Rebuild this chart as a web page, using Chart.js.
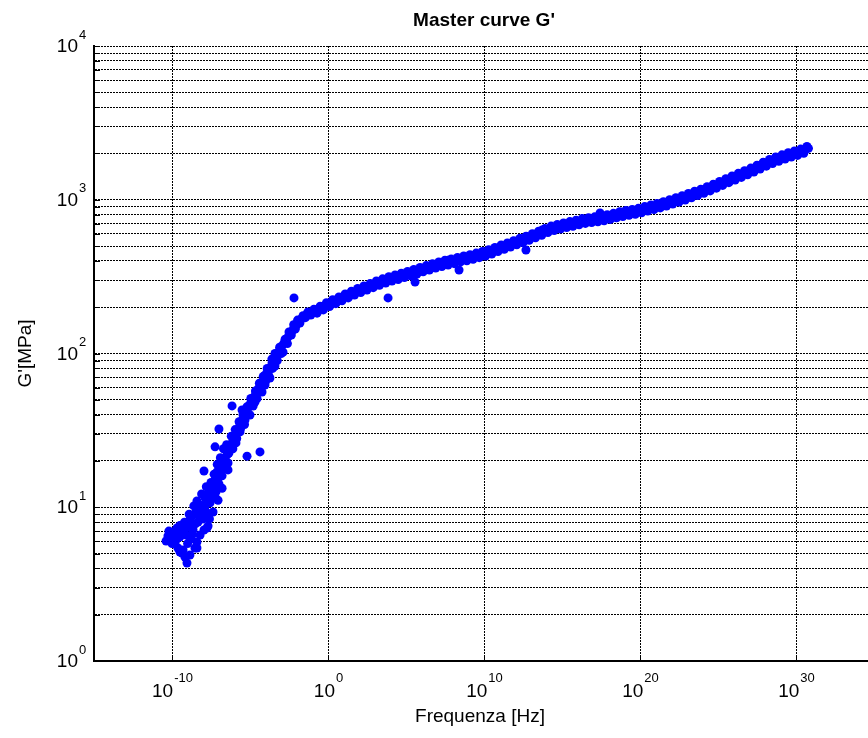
<!DOCTYPE html>
<html>
<head>
<meta charset="utf-8">
<script src="https://cdn.jsdelivr.net/npm/chart.js@4.4.1/dist/chart.umd.min.js"></script>
<style>
  html, body { margin: 0; padding: 0; background: #fff; overflow: hidden; }
  #wrap { width: 868px; height: 738px; overflow: hidden; }
</style>
</head>
<body>
<div id="wrap"><canvas id="chart" width="880" height="738"></canvas></div>
<script>
// Master curve G'

// x values are given as log10 of the frequency in Hz, y values in MPa
const lowFreqExp = [
  -10.38, -10.26, -10.06, -9.94, -9.81, -9.68, -9.62, -9.49, -9.36, -9.29,
  -9.17, -9.10, -9.04, -8.97, -8.85, -8.85, -8.72, -8.65, -8.53, -8.46,
  -8.40, -8.40, -8.33, -8.21, -8.14, -8.01, -7.95, -7.88, -7.76, -7.76,
  -7.69, -7.63, -7.56, -7.44, -7.37, -7.31, -7.24, -7.24, -7.18, -7.12,
  -7.05, -6.99, -6.92, -6.79, -6.79, -6.73, -6.60, -6.47, -6.41, -6.41,
  -6.28, -6.15, -6.03, -5.90, -5.90, -5.77, -5.64, -5.64, -5.51, -5.38,
  -5.32, -5.26, -5.13, -5.00, -5.00, -4.87, -4.74, -4.68, -4.62, -4.49,
  -4.36, -4.23, -4.23, -4.10, -4.04, -3.97, -3.85, -3.72, -3.72, -3.59,
  -3.46, -3.40, -3.33, -3.21, -3.08, -2.95, -2.88, -2.82, -2.69, -2.56,
  -2.44, -2.31, -2.18, -2.05, -1.92, -1.79, -1.67, -1.54, -1.41, -1.28
];
const lowG = [
  6.03, 6.50, 6.31, 6.90, 5.77, 7.33, 5.43, 5.12, 5.04, 5.27,
  4.75, 6.60, 4.34, 7.55, 8.26, 4.89, 6.60, 7.11, 5.43, 9.31,
  5.94, 5.43, 8.02, 8.51, 10.3, 9.60, 7.11, 11.5, 9.18, 7.33,
  7.55, 12.6, 10.7, 13.3, 9.31, 11.7, 15.0, 11.7, 12.6, 17.0,
  11.1, 14.2, 18.5, 16.0, 13.3, 19.7, 20.9, 21.9, 19.4, 17.5,
  24.3, 26.2, 27.4, 29.9, 26.2, 31.8, 34.8, 30.9, 36.9, 39.2,
  36.9, 42.3, 44.2, 46.9, 39.8, 49.9, 52.1, 48.4, 55.3, 58.7,
  61.5, 65.3, 56.2, 69.3, 62.4, 73.6, 76.9, 80.5, 69.3, 86.7,
  90.7, 82.9, 94.9, 101, 107, 112, 102, 117, 122, 128,
  134, 140, 147, 151, 158, 165, 169, 173, 177, 181
];

// second layer of the steep part, it is a wide cloud in the plot
const lowSpreadFreqExp = [
  -10.2, -10.0, -9.9, -9.8, -9.7, -9.5, -9.5, -9.3, -9.2, -9.0,
  -9.0, -8.9, -8.8, -8.7, -8.6, -8.5, -8.4, -8.3, -8.2, -8.1,
  -8.0, -7.9, -7.8, -7.7, -7.6, -7.5, -7.4, -7.3, -7.2, -7.1,
  -7.0, -6.9, -6.85, -6.7, -6.6, -6.5, -6.35, -6.2, -6.1, -5.95,
  -5.85, -5.7, -5.6, -5.45, -5.35, -5.2, -5.1, -4.95, -4.8, -4.65,
  -4.55, -4.4, -4.3, -4.15, -4.0, -3.9, -3.8, -3.6, -3.55, -3.4,
  -3.25, -3.1, -3.0, -2.75, -2.6, -2.5, -2.35, -2.2, -2.1, -1.95,
  -1.8, -1.6, -1.45, -1.3, -1.1
];
const lowSpreadG = [
  7.0, 5.8, 6.0, 6.8, 6.2, 7.6, 6.4, 7.0, 8.0, 7.4,
  5.8, 9.0, 6.2, 8.8, 10.2, 7.8, 11.0, 9.0, 6.6, 12.2,
  8.4, 10.0, 13.6, 11.0, 8.4, 14.5, 12.0, 16.4, 13.6, 19.0,
  15.6, 21.0, 17.0, 24.0, 18.6, 25.5, 22.5, 29.0, 24.0, 32.0,
  28.0, 36.0, 32.5, 40.0, 34.5, 45.0, 40.5, 51.0, 45.5, 57.0,
  51.0, 64.0, 58.0, 71.0, 66.0, 80.0, 72.0, 92.0, 80.0, 100,
  90, 110, 100, 124, 116, 138, 132, 154, 144, 165,
  158, 176, 171, 186, 178
];

const bandFreqExp = [
  -1.0, -0.8, -0.6, -0.4, -0.2, 0.0, 0.2, 0.4, 0.6, 0.8,
  1.0, 1.2, 1.4, 1.6, 1.8, 2.0, 2.2, 2.4, 2.6, 2.8,
  3.0, 3.2, 3.4, 3.6, 3.8, 4.0, 4.2, 4.4, 4.6, 4.8,
  5.0, 5.2, 5.4, 5.6, 5.8, 6.0, 6.2, 6.4, 6.6, 6.8,
  7.0, 7.2, 7.4, 7.6, 7.8, 8.0, 8.2, 8.4, 8.6, 8.8,
  9.0, 9.2, 9.4, 9.6, 9.8, 10.0, 10.2, 10.4, 10.6, 10.8,
  11.0, 11.2, 11.4, 11.6, 11.8, 12.0, 12.2, 12.4, 12.6, 12.8,
  13.0, 13.2, 13.4, 13.6, 13.8, 14.0, 14.2, 14.4, 14.6, 14.8,
  15.0, 15.2, 15.4, 15.6, 15.8, 16.0, 16.2, 16.4, 16.6, 16.8,
  17.0, 17.2, 17.4, 17.6, 17.8, 18.0, 18.2, 18.4, 18.6, 18.8,
  19.0, 19.2, 19.4, 19.6, 19.8, 20.0, 20.2, 20.4, 20.6, 20.8,
  21.0, 21.2, 21.4, 21.6, 21.8, 22.0, 22.2, 22.4, 22.6, 22.8,
  23.0, 23.2, 23.4, 23.6, 23.8, 24.0, 24.2, 24.4, 24.6, 24.8,
  25.0, 25.2, 25.4, 25.6, 25.8, 26.0, 26.2, 26.4, 26.6, 26.8,
  27.0, 27.2, 27.4, 27.6, 27.8, 28.0, 28.2, 28.4, 28.6, 28.8,
  29.0, 29.2, 29.4, 29.6, 29.8, 30.0, 30.2, 30.4, 30.6, 30.8
];
const bandG = [
  185, 189, 193, 197, 203, 208, 213, 217, 222, 227,
  232, 237, 242, 247, 252, 257, 262, 267, 272, 277,
  282, 287, 292, 296, 301, 306, 310, 314, 318, 323,
  327, 330, 336, 340, 346, 352, 356, 362, 366, 372,
  378, 380, 386, 390, 394, 397, 402, 408, 412, 416,
  420, 424, 430, 436, 440, 446, 452, 458, 466, 474,
  484, 492, 500, 508, 516, 526, 534, 544, 552, 562,
  574, 584, 596, 606, 618, 630, 644, 652, 660, 668,
  676, 682, 690, 696, 704, 712, 722, 728, 734, 738,
  742, 746, 750, 756, 764, 772, 780, 790, 800, 806,
  814, 822, 828, 834, 840, 850, 862, 874, 884, 894,
  906, 916, 928, 942, 956, 968, 984, 998, 1012, 1028,
  1046, 1066, 1082, 1100, 1118, 1136, 1158, 1178, 1200, 1226,
  1252, 1278, 1304, 1332, 1360, 1388, 1414, 1442, 1470, 1498,
  1528, 1562, 1596, 1630, 1666, 1704, 1742, 1778, 1810, 1840,
  1870, 1900, 1930, 1960, 1988, 2010, 2036, 2070, 2110, 2160
];

// points between the band points, alternately on the upper and lower edge
const edgeFreqExp = [
  -0.9, -0.7, -0.5, -0.3, -0.1, 0.1, 0.3, 0.5, 0.7, 0.9,
  1.1, 1.3, 1.5, 1.7, 1.9, 2.1, 2.3, 2.5, 2.7, 2.9,
  3.1, 3.3, 3.5, 3.7, 3.9, 4.1, 4.3, 4.5, 4.7, 4.9,
  5.1, 5.3, 5.5, 5.7, 5.9, 6.1, 6.3, 6.5, 6.7, 6.9,
  7.1, 7.3, 7.5, 7.7, 7.9, 8.1, 8.3, 8.5, 8.7, 8.9,
  9.1, 9.3, 9.5, 9.7, 9.9, 10.1, 10.3, 10.5, 10.7, 10.9,
  11.1, 11.3, 11.5, 11.7, 11.9, 12.1, 12.3, 12.5, 12.7, 12.9,
  13.1, 13.3, 13.5, 13.7, 13.9, 14.1, 14.3, 14.5, 14.7, 14.9,
  15.1, 15.3, 15.5, 15.7, 15.9, 16.1, 16.3, 16.5, 16.7, 16.9,
  17.1, 17.3, 17.5, 17.7, 17.9, 18.1, 18.3, 18.5, 18.7, 18.9,
  19.1, 19.3, 19.5, 19.7, 19.9, 20.1, 20.3, 20.5, 20.7, 20.9,
  21.1, 21.3, 21.5, 21.7, 21.9, 22.1, 22.3, 22.5, 22.7, 22.9,
  23.1, 23.3, 23.5, 23.7, 23.9, 24.1, 24.3, 24.5, 24.7, 24.9,
  25.1, 25.3, 25.5, 25.7, 25.9, 26.1, 26.3, 26.5, 26.7, 26.9,
  27.1, 27.3, 27.5, 27.7, 27.9, 28.1, 28.3, 28.5, 28.7, 28.9,
  29.1, 29.3, 29.5, 29.7, 29.9, 30.1, 30.3, 30.5, 30.7
];
const edgeG = [
  194, 183, 203, 192, 214, 202, 224, 211, 233, 220,
  244, 230, 254, 240, 265, 249, 275, 259, 285, 268,
  296, 278, 306, 287, 316, 296, 324, 303, 333, 312,
  342, 320, 352, 329, 363, 340, 373, 349, 384, 360,
  394, 368, 404, 376, 411, 384, 421, 394, 431, 401,
  439, 410, 450, 420, 461, 431, 473, 444, 489, 460,
  508, 476, 524, 492, 542, 509, 561, 526, 579, 545,
  602, 566, 625, 588, 649, 612, 674, 630, 691, 645,
  706, 659, 721, 672, 736, 688, 754, 702, 765, 710,
  774, 718, 783, 730, 799, 745, 816, 763, 835, 778,
  851, 792, 864, 804, 879, 822, 903, 844, 925, 864,
  947, 885, 972, 911, 1000, 937, 1031, 965, 1061, 996,
  1098, 1031, 1135, 1065, 1172, 1101, 1215, 1141, 1262, 1189,
  1316, 1239, 1371, 1292, 1429, 1345, 1485, 1398, 1543, 1452,
  1607, 1516, 1678, 1582, 1752, 1654, 1830, 1722, 1898, 1781,
  1960, 1838, 2023, 1895, 2079, 1942, 2135, 2006, 2220
];

// small bumps just off the band
const bumpFreqExp = [5.58, 7.76, 8.40, 12.69, 13.72, 17.44];
const bumpG = [292, 406, 349, 471, 635, 820];

const outlierFreqExp = [-7.95, -7.24, -6.99, -6.15, -5.51, -5.19, -4.36, -2.18, 3.85];
const outlierG = [17.2, 24.7, 32.3, 45.6, 42.9, 21.5, 22.9, 230, 230];

const xTickExp = [-10, 0, 10, 20, 30];
const yTickExp = [0, 1, 2, 3, 4];
const yMinorSteps = [1, 2, 3, 4, 5, 6, 7, 8, 9];

const FONT = '"Liberation Sans", Arial, Helvetica, sans-serif';

const toPoints = (ex, g) => ex.map((e, i) => ({ x: Math.pow(10, e), y: g[i] }));

const allPoints = [].concat(
  toPoints(lowFreqExp, lowG),
  toPoints(lowSpreadFreqExp, lowSpreadG),
  toPoints(bandFreqExp, bandG),
  toPoints(edgeFreqExp, edgeG),
  toPoints(bumpFreqExp, bumpG),
  toPoints(outlierFreqExp, outlierG)
);

// y grid at 1..9 x 10^k
const yGridValues = [];
yTickExp.slice(0, -1).forEach(k => yMinorSteps.forEach(m => yGridValues.push(m * Math.pow(10, k))));
yGridValues.push(Math.pow(10, yTickExp[yTickExp.length - 1]));

// superscript labels, inward ticks, titles
const decorations = {
  id: 'decorations',
  afterDraw(chart) {
    const c = chart.ctx;
    const xs = chart.scales.x, ys = chart.scales.y;
    const area = chart.chartArea;
    c.save();
    c.fillStyle = '#000';
    c.strokeStyle = '#000';
    c.lineWidth = 1;

    // inward tick marks
    c.beginPath();
    yGridValues.forEach(v => {
      const py = Math.round(ys.getPixelForValue(v)) + 0.5;
      c.moveTo(area.left, py);
      c.lineTo(area.left + 6, py);
    });
    xTickExp.forEach(e => {
      const px = Math.round(xs.getPixelForValue(Math.pow(10, e))) + 0.5;
      c.moveTo(px, area.bottom);
      c.lineTo(px, area.bottom - 6);
    });
    c.stroke();

    c.textBaseline = 'middle';
    c.textAlign = 'left';
    // y labels
    yTickExp.forEach(e => {
      const py = ys.getPixelForValue(Math.pow(10, e));
      c.font = '19px ' + FONT;
      const wb = c.measureText('10').width;
      c.fillText('10', 78 - wb, py + 1);
      c.font = '13px ' + FONT;
      c.fillText(String(e), 79, py - 11);
    });
    // x labels
    xTickExp.forEach(e => {
      const px = xs.getPixelForValue(Math.pow(10, e));
      c.font = '19px ' + FONT;
      const wb = c.measureText('10').width;
      c.font = '13px ' + FONT;
      const we = c.measureText(String(e)).width;
      const left = px - (wb + we) / 2;
      c.font = '19px ' + FONT;
      c.fillText('10', left, 692);
      c.font = '13px ' + FONT;
      c.fillText(String(e), left + wb + 1, 678);
    });

    // titles
    const cx = (area.left + area.right) / 2;
    c.textAlign = 'center';
    c.font = 'bold 19px ' + FONT;
    c.fillText("Master curve G'", cx, 21);
    c.font = '19px ' + FONT;
    c.fillText('Frequenza [Hz]', cx - 4, 717);
    c.translate(26, (area.top + area.bottom) / 2);
    c.rotate(-Math.PI / 2);
    c.fillText("G'[MPa]", 0, 0);
    c.restore();
  }
};

new Chart(document.getElementById('chart').getContext('2d'), {
  type: 'scatter',
  data: {
    datasets: [{
      label: "G'",
      data: allPoints,
      backgroundColor: '#0000ff',
      borderWidth: 0,
      pointRadius: 4.5,
      pointHoverRadius: 4.5
    }]
  },
  options: {
    responsive: false,
    animation: false,
    devicePixelRatio: 1,
    layout: { padding: { left: 94, right: 6, top: 46, bottom: 77 } },
    plugins: {
      legend: { display: false },
      tooltip: { enabled: false },
      title: { display: false }
    },
    scales: {
      x: {
        type: 'logarithmic',
        min: 1e-15,
        max: 1e35,
        afterBuildTicks: s => { s.ticks = xTickExp.map(e => ({ value: Math.pow(10, e) })); },
        afterFit: s => { s.height = 0; },
        ticks: { display: false },
        grid: { color: '#000', lineWidth: 1, drawTicks: false },
        border: { display: true, color: '#000', width: 2, dash: [2, 1] }
      },
      y: {
        type: 'logarithmic',
        min: 1,
        max: 1e4,
        afterBuildTicks: s => { s.ticks = yGridValues.map(v => ({ value: v })); },
        afterFit: s => { s.width = 0; },
        ticks: { display: false },
        grid: { color: '#000', lineWidth: 1, drawTicks: false },
        border: { display: true, color: '#000', width: 2, dash: [2, 1] }
      }
    }
  },
  plugins: [decorations]
});
</script>
</body>
</html>
